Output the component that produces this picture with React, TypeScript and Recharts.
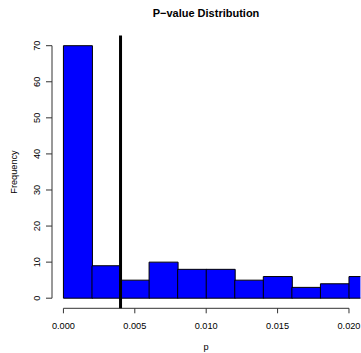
import React from 'react';
import { ComposedChart, Bar, XAxis, YAxis, ReferenceLine } from 'recharts';

const binStarts = [0, 0.002, 0.004, 0.006, 0.008, 0.01, 0.012, 0.014, 0.016, 0.018, 0.02];
const counts = [70, 9, 5, 10, 8, 8, 5, 6, 3, 4, 6];
const binWidth = 0.002;
const xTicks = [0, 0.005, 0.01, 0.015, 0.02];
const yTicks = [0, 10, 20, 30, 40, 50, 60, 70];
const cutoff = 0.004;
const title = 'P\u2212value Distribution';
const xTitle = 'p';
const yTitle = 'Frequency';

const data = binStarts.map((s, i) => ({ mid: s + binWidth / 2, count: counts[i] }));

const FONT = '"Liberation Sans", Arial, Helvetica, sans-serif';
const AXIS_COLOR = '#333';

const YTick = (props: any) => {
  const { x, y, payload } = props;
  return (
    <text x={x} y={y} transform={`rotate(-90, ${x}, ${y})`} textAnchor="middle" fontSize={9.2} fontFamily={FONT} fill="#000">
      {payload.value}
    </text>
  );
};

const XTick = (props: any) => {
  const { x, y, payload } = props;
  return (
    <text x={x} y={y} textAnchor="middle" fontSize={9.2} fontFamily={FONT} fill="#000">
      {Number(payload.value).toFixed(3)}
    </text>
  );
};

export default function App() {
  return (
    <div style={{ position: 'absolute', left: 0, top: 0, width: 361, height: 353, overflow: 'hidden', background: '#fff' }}>
      <ComposedChart
        width={361}
        height={353}
        data={data}
        margin={{ top: 35.6, right: 0.6, bottom: 0, left: 0 }}
        barCategoryGap={0}
        barGap={0}
      >
        <XAxis
          dataKey="mid"
          type="number"
          domain={[-0.0008, 0.0208]}
          allowDataOverflow
          ticks={xTicks}
          interval={0}
          height={44.7}
          axisLine={false}
          tickSize={5}
          tickMargin={15.7}
          tickLine={{ stroke: AXIS_COLOR, strokeWidth: 1 }}
          tick={<XTick />}
        />
        <YAxis
          type="number"
          domain={[-2.8, 72.8]}
          allowDataOverflow
          ticks={yTicks}
          interval={0}
          width={52}
          axisLine={false}
          tickSize={6}
          tickMargin={6}
          tickLine={{ stroke: AXIS_COLOR, strokeWidth: 1 }}
          tick={<YTick />}
        />
        <Bar dataKey="count" fill="#0000FF" stroke="#000" strokeWidth={1} isAnimationActive={false} />
        <ReferenceLine
          segment={[{ x: xTicks[0], y: -2.8 }, { x: xTicks[xTicks.length - 1], y: -2.8 }]}
          stroke={AXIS_COLOR}
          strokeWidth={1}
          ifOverflow="visible"
        />
        <ReferenceLine
          segment={[{ x: -0.0008, y: yTicks[0] }, { x: -0.0008, y: yTicks[yTicks.length - 1] }]}
          stroke={AXIS_COLOR}
          strokeWidth={1}
          ifOverflow="visible"
        />
        <ReferenceLine x={cutoff} stroke="#000" strokeWidth={3} ifOverflow="visible" />
        <text x={206} y={16.7} textAnchor="middle" fontSize={11} fontWeight="bold" fontFamily={FONT} fill="#000">
          {title}
        </text>
        <text x={206} y={349.5} textAnchor="middle" fontSize={9.2} fontFamily={FONT} fill="#000">
          {xTitle}
        </text>
        <text x={16.7} y={172} transform="rotate(-90, 16.7, 172)" textAnchor="middle" fontSize={9.2} fontFamily={FONT} fill="#000">
          {yTitle}
        </text>
      </ComposedChart>
    </div>
  );
}
